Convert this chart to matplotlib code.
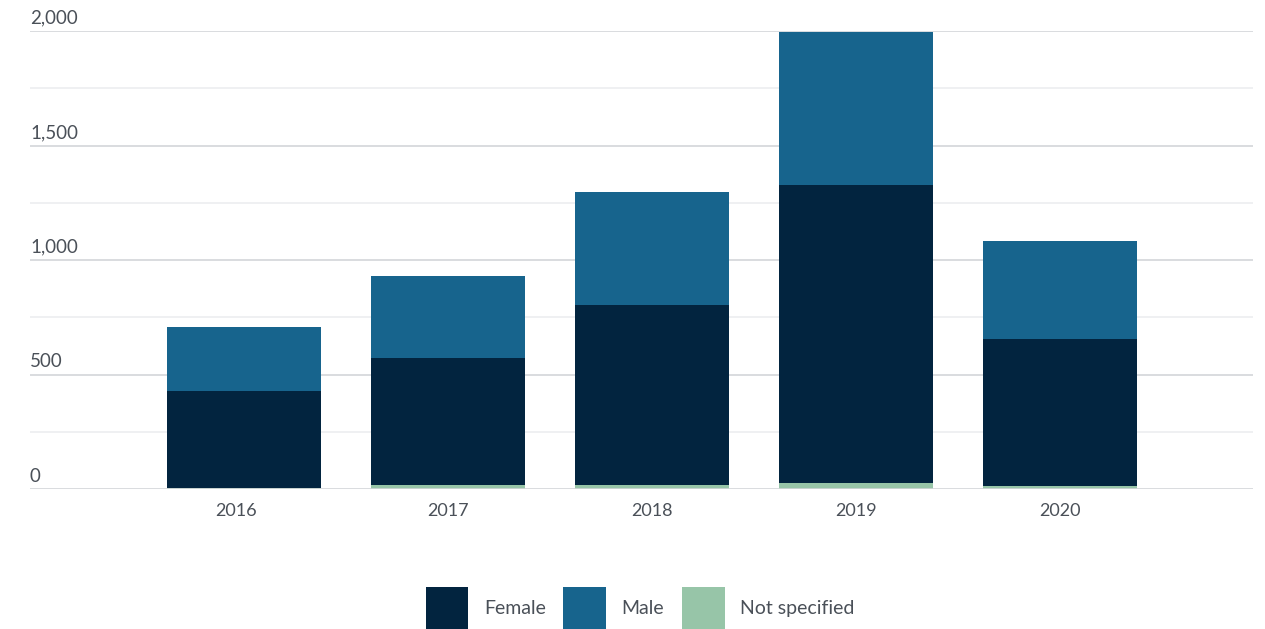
import matplotlib
matplotlib.use("Agg")
import matplotlib.pyplot as plt
import matplotlib.transforms as mtransforms
import numpy as np

years = ["2016", "2017", "2018", "2019", "2020"]
not_specified = [3, 19, 19, 28, 14]
female = [427, 551, 783, 1298, 639]
male = [279, 358, 497, 669, 432]
y_ticks = [0, 500, 1000, 1500, 2000]
y_minor = [250, 750, 1250, 1750]

c_female = "#02243f"
c_male = "#17648d"
c_ns = "#97c5a8"
txt = "#4a5058"

plt.rcParams['font.family'] = ['Lato', 'DejaVu Sans']

fig = plt.figure(figsize=(12.65, 6.29), dpi=100)
L, R = 30 / 1265, 1253 / 1265
B, T = 1 - 489 / 629, 1 - 31 / 629
ax = fig.add_axes([L, B, R - L, T - B])

x = np.arange(len(years))
w = 0.755
ns = np.array(not_specified)
fe = np.array(female)
ma = np.array(male)
ax.bar(x, ns, w, color=c_ns, zorder=3, label="Not specified")
ax.bar(x, fe, w, bottom=ns, color=c_female, zorder=3, label="Female")
ax.bar(x, ma, w, bottom=ns + fe, color=c_male, zorder=3, label="Male")

ax.set_xlim((30 - 244) / 204, (1253 - 244) / 204)
ax.set_ylim(0, 2000)

for v in y_minor:
    ax.axhline(v, color="#eceef0", lw=1.2, zorder=1)
for v in y_ticks:
    ax.axhline(v, color="#d3d6d9", lw=1.2, zorder=1 if v else 4)
    ax.annotate(f"{v:,}", xy=(0, v), xycoords=("axes fraction", "data"),
                xytext=(0, 3), textcoords="offset points",
                ha="left", va="bottom", fontsize=13.5, color=txt)

for s in ax.spines.values():
    s.set_visible(False)
ax.set_yticks([])
ax.set_xticks(x)
ax.set_xticklabels(years, fontsize=13, color=txt)
ax.tick_params(axis="x", length=0, pad=10)
first = ax.get_xticklabels()[0]
first.set_transform(first.get_transform() +
                    mtransforms.ScaledTranslation(-8 / 100, 0, fig.dpi_scale_trans))

handles, labels = ax.get_legend_handles_labels()
order = [1, 2, 0]
leg = fig.legend([handles[i] for i in order], [labels[i] for i in order],
                 loc="center", bbox_to_anchor=(640 / 1265, 1 - 608 / 629),
                 ncol=3, frameon=False, fontsize=14,
                 handlelength=2.2, handleheight=2.9, handletextpad=0.8,
                 columnspacing=0.9, borderpad=0)
for t in leg.get_texts():
    t.set_color(txt)

fig.savefig("out.png", dpi=100)
